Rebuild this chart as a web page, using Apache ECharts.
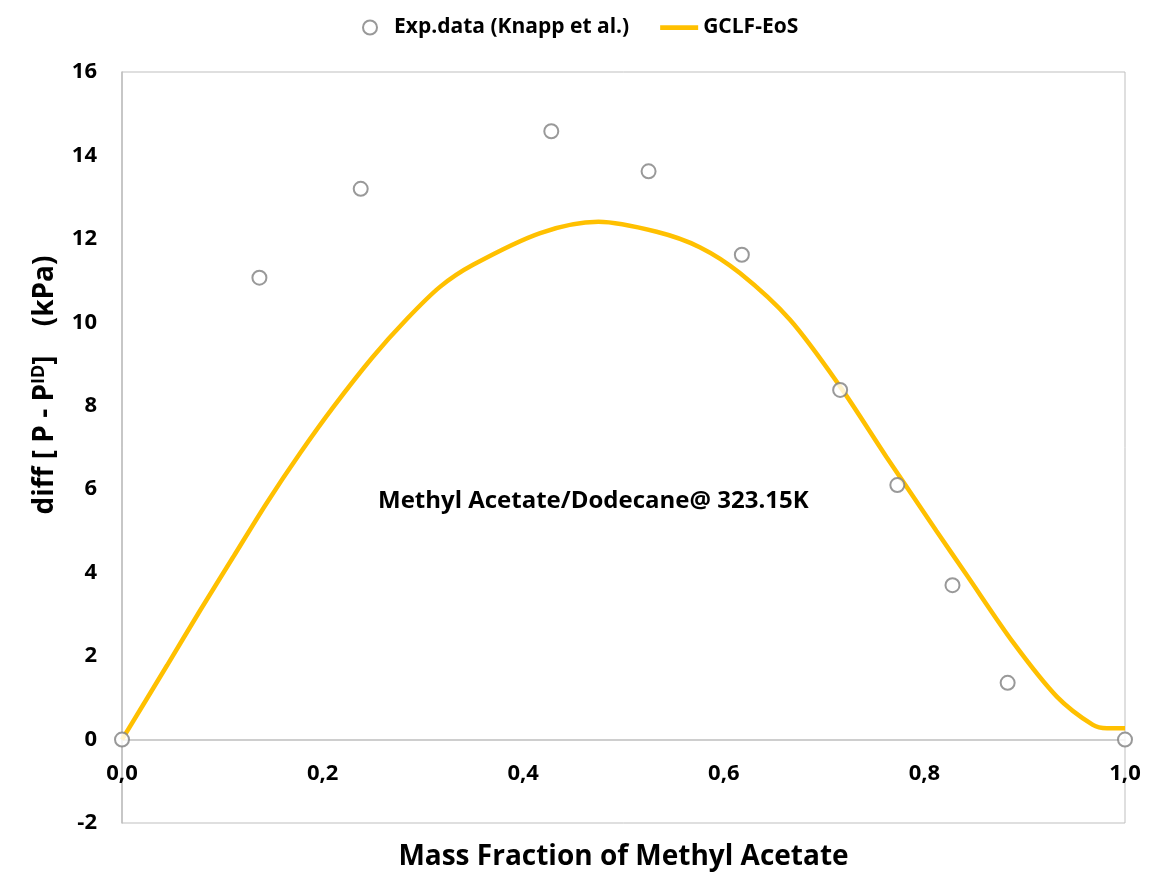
<!DOCTYPE html>
<html>
<head>
<meta charset="utf-8">
<script src="https://cdn.jsdelivr.net/npm/echarts@6/dist/echarts.min.js"></script>
<style>html,body{margin:0;padding:0;background:#fff;}#c{width:1149px;height:877px;}</style>
</head>
<body>
<div id="c"></div>
<script>
var expX = [0, 0.137, 0.238, 0.428, 0.525, 0.618, 0.716, 0.773, 0.828, 0.883, 1.0];
var expY = [0, 11.07, 13.20, 14.58, 13.62, 11.62, 8.38, 6.10, 3.70, 1.36, 0];
var modelX = [0, 0.045, 0.078, 0.111, 0.144, 0.178, 0.211, 0.25, 0.284, 0.317, 0.35, 0.417, 0.475, 0.533, 0.576, 0.616, 0.666, 0.716, 0.762, 0.812, 0.842, 0.889, 0.932, 0.968, 0.982, 1.0];
var modelY = [0, 1.78, 3.10, 4.38, 5.66, 6.88, 7.98, 9.17, 10.08, 10.85, 11.38, 12.14, 12.41, 12.17, 11.80, 11.18, 10.06, 8.46, 6.78, 5.00, 3.95, 2.31, 1.03, 0.35, 0.27, 0.27];
var yTicksMin = -2, yTicksMax = 16, yStep = 2;
var seriesNames = ['Exp.data (Knapp et al.)', 'GCLF-EoS'];
var xTitle = 'Mass Fraction of Methyl Acetate';
var annotation = 'Methyl Acetate/Dodecane@ 323.15K';

var FONT = 'Open Sans';
var GRID_TOP = 72, GRID_BOTTOM = 54, H = 877;
var plotH = H - GRID_TOP - GRID_BOTTOM;
var zeroOffset = -plotH * (0 - yTicksMin) / (yTicksMax - yTicksMin);

var chart = echarts.init(document.getElementById('c'));
function zip(a, b) { return a.map(function (v, i) { return [v, b[i]]; }); }
chart.setOption({
  animation: false,
  backgroundColor: '#fff',
  textStyle: { fontFamily: FONT },
  legend: {
    top: 12, left: 357, itemGap: 31,
    itemWidth: 38, itemHeight: 14,
    textStyle: { fontFamily: FONT, fontWeight: 'bold', fontSize: 21, color: '#000' },
    data: [
      { name: seriesNames[0], icon: 'emptyCircle', itemStyle: { color: '#7f7f7f', borderColor: '#7f7f7f', borderWidth: 2 } },
      { name: seriesNames[1], icon: 'path://M0,0h40v5h-40z', itemStyle: { color: '#ffc000' } }
    ]
  },
  grid: { left: 122, right: 24, top: GRID_TOP, bottom: GRID_BOTTOM, show: true, borderColor: '#bfbfbf', borderWidth: 1, outerBoundsMode: 'none', containLabel: false },
  xAxis: {
    type: 'value', min: 0, max: 1, interval: 0.2,
    offset: zeroOffset,
    axisLine: { onZero: false, lineStyle: { color: '#bfbfbf', width: 1.5 } },
    axisTick: { show: false },
    splitLine: { show: false },
    axisLabel: { margin: 23, fontFamily: FONT, fontWeight: 'bold', fontSize: 22, color: '#000',
      formatter: function (v) { return v.toFixed(1).replace('.', ','); } },
    name: xTitle, nameLocation: 'middle', nameGap: 103,
    nameTextStyle: { fontFamily: FONT, fontWeight: 'bold', fontSize: 28, color: '#000' }
  },
  yAxis: {
    type: 'value', min: yTicksMin, max: yTicksMax, interval: yStep,
    axisLine: { show: true, onZero: false, lineStyle: { color: '#bfbfbf', width: 1.5 } },
    axisTick: { show: false },
    splitLine: { show: false },
    axisLabel: { margin: 25, fontFamily: FONT, fontWeight: 'bold', fontSize: 22, color: '#000' }
  },
  graphic: [
    {
      type: 'text', x: 45, y: 385, rotation: Math.PI / 2,
      style: {
        text: '{m|diff [ P - P}{s|ID}{m|]    (kPa)}',
        align: 'center', verticalAlign: 'middle',
        rich: {
          m: { fontFamily: FONT, fontWeight: 'bold', fontSize: 28, fill: '#000', color: '#000' },
          s: { fontFamily: FONT, fontWeight: 'bold', fontSize: 18, fill: '#000', color: '#000', padding: [0, 0, 13, 0] }
        }
      }
    },
    {
      type: 'text', x: 378, y: 501,
      style: { text: annotation, fontFamily: FONT, fontWeight: 'bold', fontSize: 24, fill: '#000', verticalAlign: 'middle' }
    }
  ],
  series: [
    {
      name: seriesNames[1], type: 'line', data: zip(modelX, modelY), smooth: 0.3,
      showSymbol: false, symbol: 'none', z: 2,
      lineStyle: { color: '#ffc000', width: 4.5 }, itemStyle: { color: '#ffc000' }
    },
    {
      name: seriesNames[0], type: 'scatter', data: zip(expX, expY), z: 3,
      symbol: 'emptyCircle', symbolSize: 14,
      itemStyle: { color: '#7f7f7f', borderColor: '#7f7f7f', borderWidth: 2 }
    }
  ]
});
</script>
</body>
</html>
